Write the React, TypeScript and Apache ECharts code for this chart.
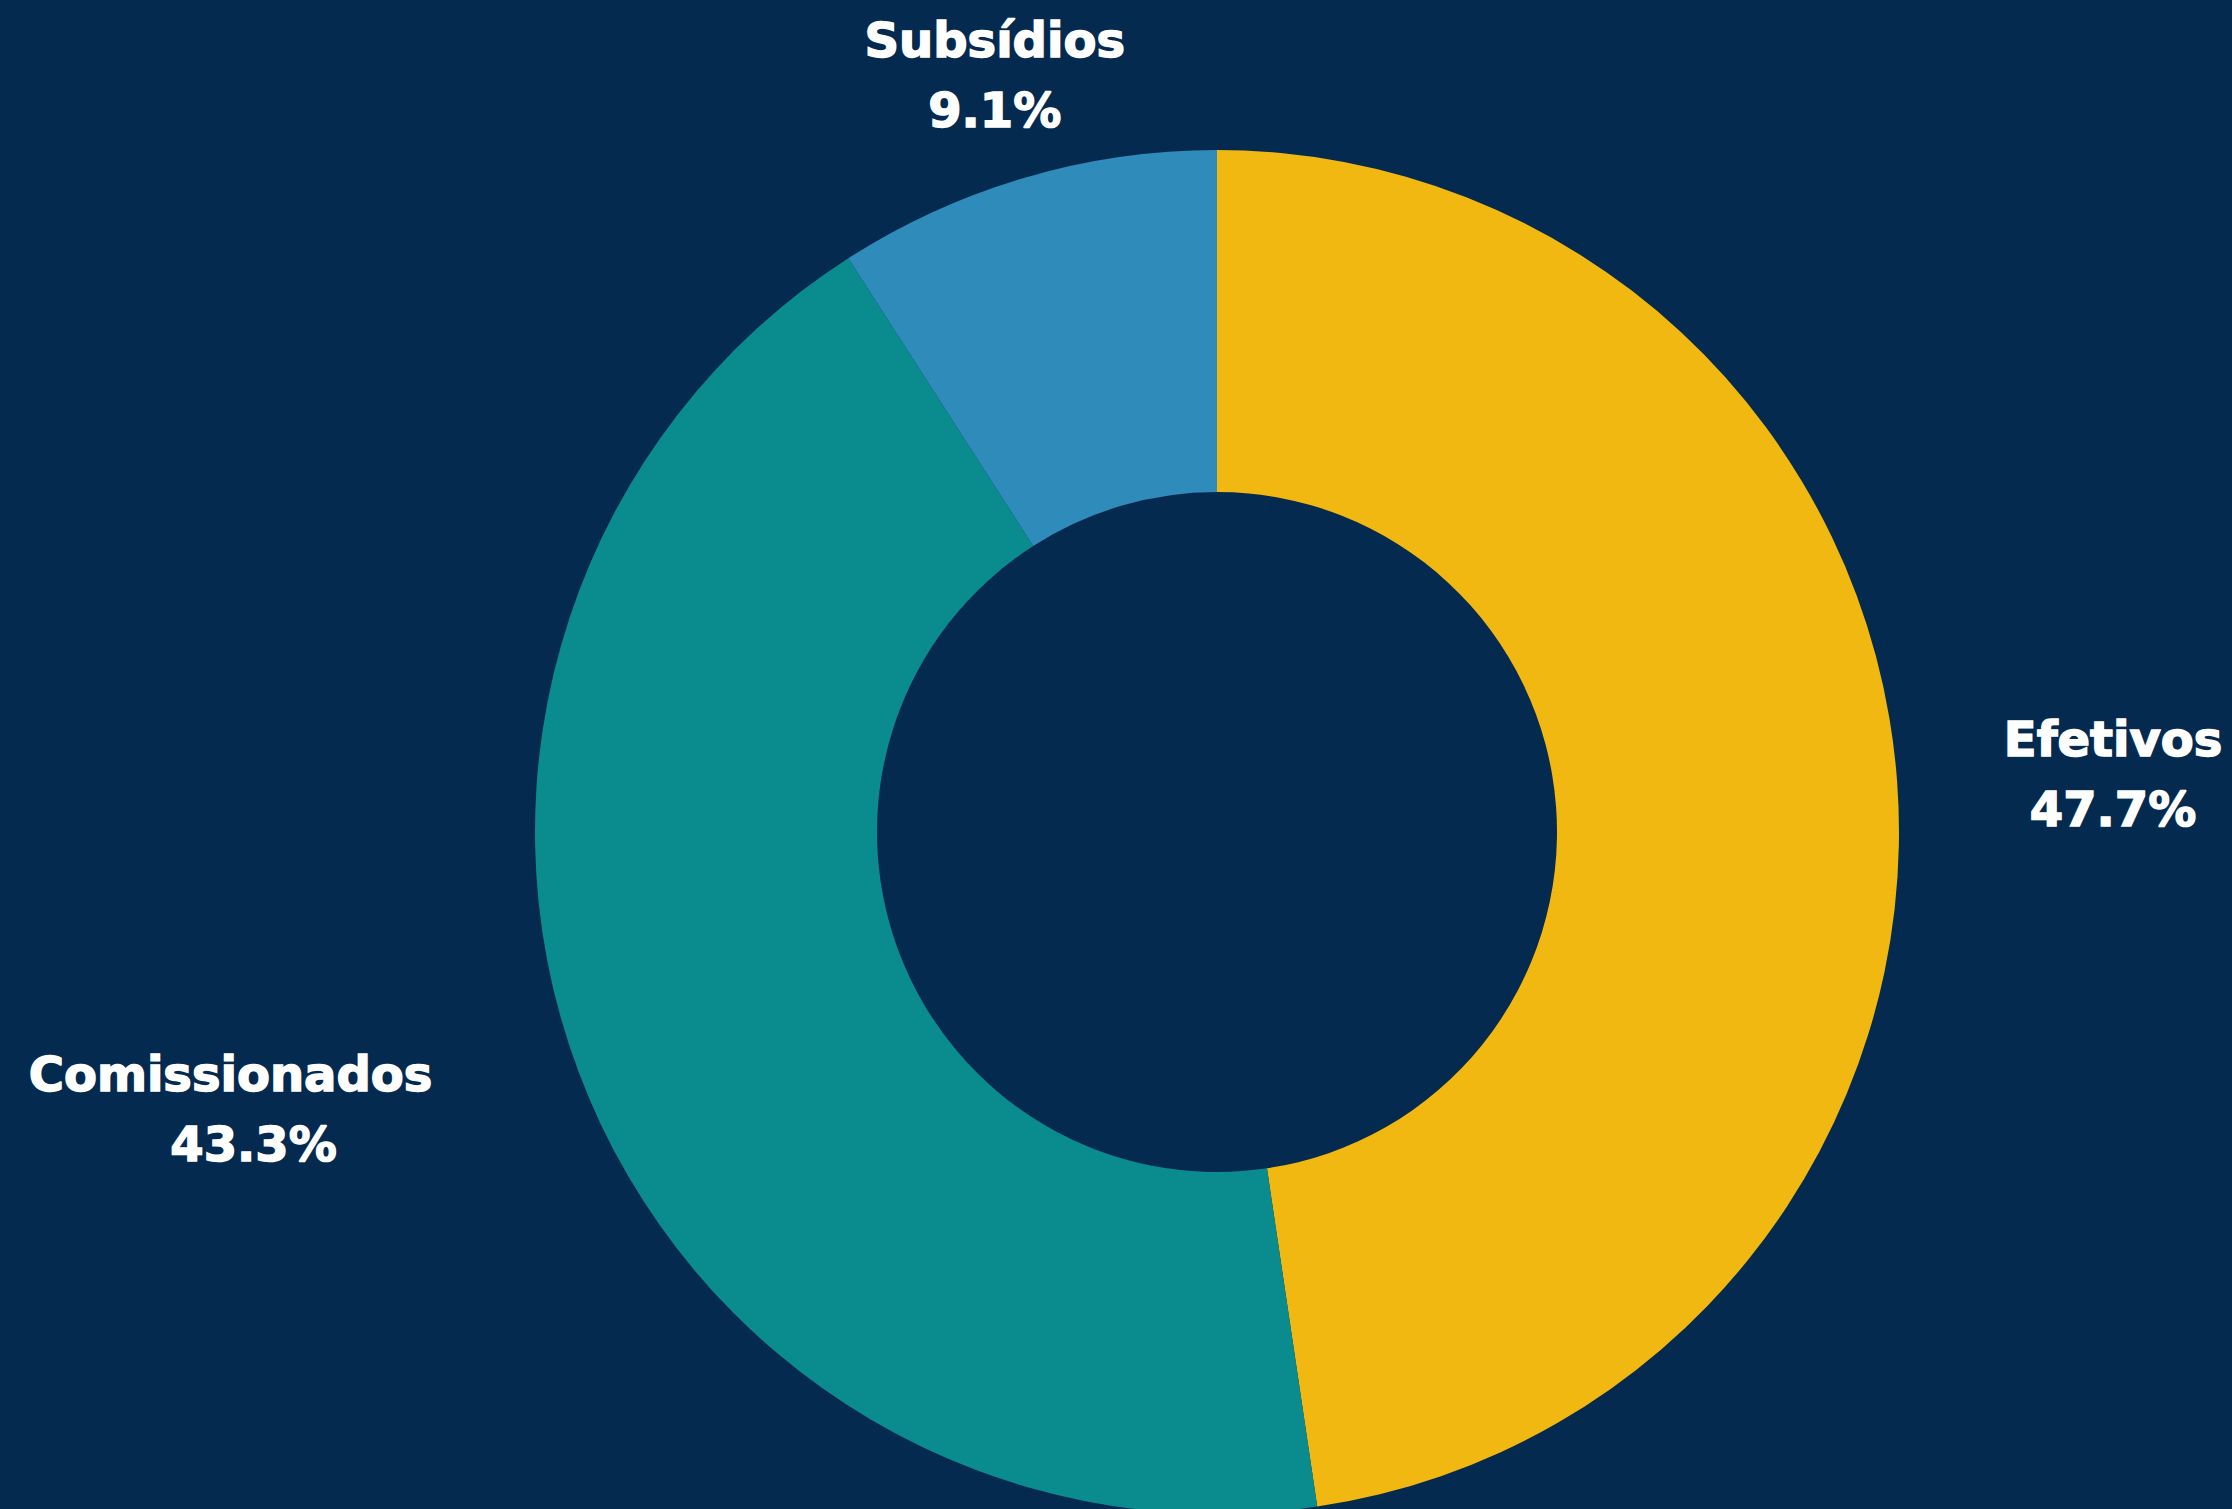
import React, { useEffect, useRef } from 'react';
import * as echarts from 'echarts';

const categories = ['Efetivos', 'Comissionados', 'Subsídios'];
const values = [47.7, 43.3, 9.1];
const colors = ['#F0B811', '#0A8C8E', '#2E8BBA'];
const background = '#042A4F';

export default function App() {
  const ref = useRef<HTMLDivElement>(null);
  useEffect(() => {
    document.body.style.margin = '0';
    document.body.style.background = background;
    const chart = echarts.init(ref.current!, null, { renderer: 'svg' });
    const textBase = {
      color: '#FFFFFF',
      fontFamily: '"DejaVu Sans", sans-serif',
      fontWeight: 'bold',
      fontSize: 48,
      lineHeight: 70,
      align: 'center',
      textBorderColor: '#FFFFFF',
      textBorderWidth: 1.5,
    };
    chart.setOption({
      animation: false,
      backgroundColor: background,
      series: [
        {
          type: 'pie',
          center: [1217, 832],
          radius: [340, 682],
          startAngle: 90,
          clockwise: true,
          avoidLabelOverlap: false,
          itemStyle: { borderWidth: 0 },
          emphasis: { disabled: true },
          data: categories.map((name, i) => ({
            name,
            value: values[i],
            itemStyle: { color: colors[i] },
          })),
          label: {
            show: true,
            position: 'outside',
            distanceToLabelLine: 0,
            formatter: (p: any) =>
              `{${p.dataIndex === 1 ? 'nc' : 'n'}|${p.name}}\n{v|${Number(p.value).toFixed(1)}%}`,
            rich: {
              n: { ...textBase },
              nc: { ...textBase, padding: [0, 46, 0, 0] },
              v: { ...textBase },
            },
          },
          labelLine: { show: false, length: 107, length2: 0 },
          labelLayout: (p: any) => (p.dataIndex === 2 ? { align: 'center' } : {}),
        },
      ],
    });
    return () => chart.dispose();
  }, []);
  return (
    <div
      ref={ref}
      style={{ position: 'fixed', left: 0, top: 0, width: 2232, height: 1509, background }}
    />
  );
}
